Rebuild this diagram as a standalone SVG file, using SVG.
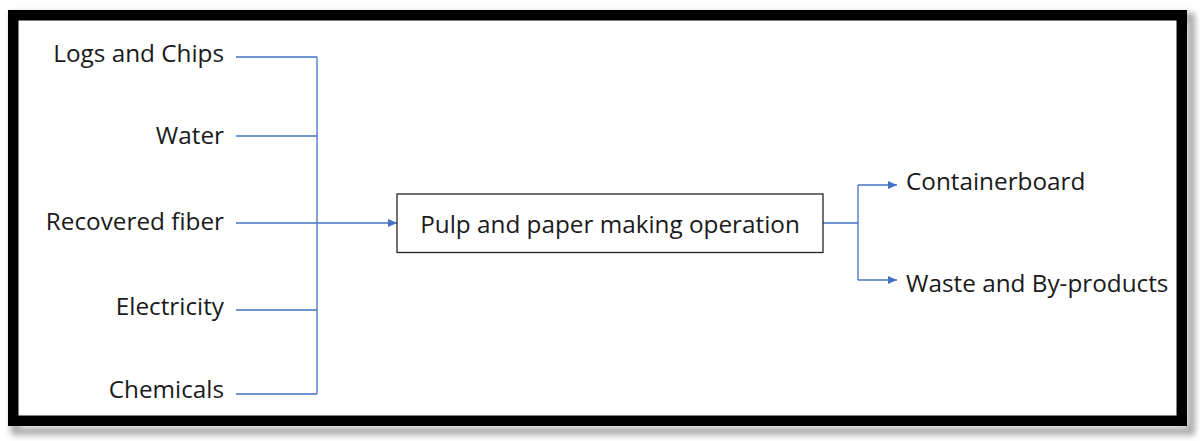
<svg xmlns="http://www.w3.org/2000/svg" width="1200" height="441" viewBox="0 0 1200 441">
<defs>
<filter id="sh" x="-5%" y="-5%" width="110%" height="115%">
<feGaussianBlur stdDeviation="3"/>
</filter>
<marker id="ah" markerWidth="9" markerHeight="8" refX="9" refY="4" orient="auto" markerUnits="userSpaceOnUse">
<path d="M0,0 L9,4 L0,8 z" fill="#4472C4"/>
</marker>
<style>
.lbl{font-family:"Open Sans","Liberation Sans",sans-serif;font-size:24.3px;fill:#1a1a1a}
.c{fill:none;stroke:#4472C4;stroke-width:1.3}
</style>
</defs>
<rect width="1200" height="441" fill="#ffffff"/>
<rect x="15" y="17" width="1176" height="414" fill="none" stroke="#a8a8a8" stroke-width="8" filter="url(#sh)"/>
<rect x="13.25" y="15.25" width="1168.5" height="405.5" fill="#ffffff" stroke="#000000" stroke-width="10.5"/>
<g id="connectors">
<path class="c" d="M236,57 H317 M236,136 H317 M236,310 H317 M236,394 H317 M317,57 V394"/>
<path class="c" d="M236,223 H397" marker-end="url(#ah)"/>
<path class="c" d="M823,223 H858 M858,185 V280"/>
<path class="c" d="M858,185 H897" marker-end="url(#ah)"/>
<path class="c" d="M858,280 H897" marker-end="url(#ah)"/>
</g>
<g id="logs"><text class="lbl" x="224" y="62" text-anchor="end">Logs and Chips</text></g>
<g id="water"><text class="lbl" x="224" y="144" text-anchor="end">Water</text></g>
<g id="recovered"><text class="lbl" x="224" y="230" text-anchor="end">Recovered fiber</text></g>
<g id="electricity"><text class="lbl" x="224" y="315" text-anchor="end">Electricity</text></g>
<g id="chemicals"><text class="lbl" x="224" y="398" text-anchor="end">Chemicals</text></g>
<g id="process">
<rect x="397" y="194" width="426" height="58.5" fill="#ffffff" stroke="#262626" stroke-width="1.3"/>
<text class="lbl" x="610" y="233" text-anchor="middle">Pulp and paper making operation</text>
</g>
<g id="containerboard"><text class="lbl" x="906" y="190">Containerboard</text></g>
<g id="waste"><text class="lbl" x="906" y="292">Waste and By-products</text></g>
</svg>
